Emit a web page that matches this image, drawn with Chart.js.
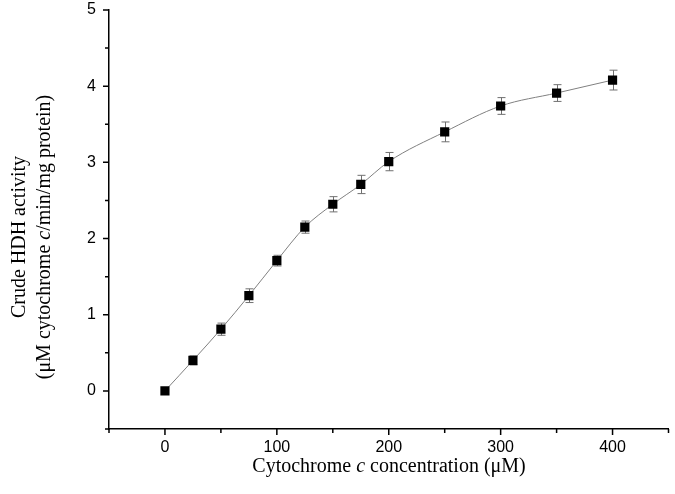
<!DOCTYPE html>
<html><head><meta charset="utf-8">
<script src="https://cdn.jsdelivr.net/npm/chart.js@4/dist/chart.umd.min.js"></script>
<style>html,body{margin:0;padding:0;background:#fff}#wrap{width:675px;height:494px}</style>
</head><body><div id="wrap"><canvas id="c" width="675" height="494"></canvas></div>
<script>
const concentrations = [0, 25, 50, 75, 100, 125, 150, 175, 200, 250, 300, 350, 400];
const activity = [0, 0.40, 0.81, 1.25, 1.71, 2.15, 2.45, 2.71, 3.01, 3.40, 3.74, 3.91, 4.08];
const errors = [0, 0.06, 0.08, 0.09, 0.07, 0.08, 0.10, 0.12, 0.12, 0.13, 0.11, 0.11, 0.13];
const xTickLabels = [0, 100, 200, 300, 400];
const yTickLabels = [0, 1, 2, 3, 4, 5];

const points = concentrations.map((x, i) => ({x: x, y: activity[i]}));

const errorBars = {
  id: 'errorBars',
  beforeDatasetsDraw(chart) {
    const ctx = chart.ctx, xs = chart.scales.x, ys = chart.scales.y;
    ctx.save();
    ctx.strokeStyle = '#707070';
    ctx.lineWidth = 1;
    concentrations.forEach((x, i) => {
      if (!errors[i]) return;
      const px = Math.round(xs.getPixelForValue(x)) + 0.5;
      const top = ys.getPixelForValue(activity[i] + errors[i]);
      const bot = ys.getPixelForValue(activity[i] - errors[i]);
      ctx.beginPath();
      ctx.moveTo(px, top); ctx.lineTo(px, bot);
      ctx.moveTo(px - 4, top); ctx.lineTo(px + 4, top);
      ctx.moveTo(px - 4, bot); ctx.lineTo(px + 4, bot);
      ctx.stroke();
    });
    ctx.restore();
  }
};

const axisDecor = {
  id: 'axisDecor',
  afterDraw(chart) {
    const ctx = chart.ctx, xs = chart.scales.x, ys = chart.scales.y;
    const ca = chart.chartArea;
    ctx.save();
    ctx.strokeStyle = '#000';
    ctx.lineWidth = 1.5;
    ctx.beginPath();
    for (let v = xs.min; v <= xs.max + 1e-9; v += 50) {
      const px = xs.getPixelForValue(v);
      const len = (v % 100 === 0) ? 6 : 4;
      ctx.moveTo(px, ca.bottom); ctx.lineTo(px, ca.bottom + len);
    }
    for (let v = ys.min; v <= ys.max + 1e-9; v += 0.5) {
      const py = ys.getPixelForValue(v);
      const len = (Math.abs(v - Math.round(v)) < 1e-9) ? 6 : 4;
      ctx.moveTo(ca.left, py); ctx.lineTo(ca.left - len, py);
    }
    ctx.stroke();

    ctx.fillStyle = '#000';
    ctx.textBaseline = 'middle';
    const serif = '"Liberation Serif", "Times New Roman", serif';
    function mixed(parts, cx, cy) {
      let total = 0;
      parts.forEach(p => { ctx.font = (p[1] ? 'italic ' : '') + '20px ' + serif; total += ctx.measureText(p[0]).width; });
      let x = cx - total / 2;
      ctx.textAlign = 'left';
      parts.forEach(p => { ctx.font = (p[1] ? 'italic ' : '') + '20px ' + serif; ctx.fillText(p[0], x, cy); x += ctx.measureText(p[0]).width; });
    }
    mixed([['Cytochrome ', false], ['c', true], [' concentration (\u03BCM)', false]], 389, 467);
    const midY = 237;
    ctx.save();
    ctx.translate(20, midY); ctx.rotate(-Math.PI / 2);
    mixed([['Crude HDH activity', false]], 0, 0);
    ctx.restore();
    ctx.save();
    ctx.translate(45, midY); ctx.rotate(-Math.PI / 2);
    mixed([['(\u03BCM cytochrome ', false], ['c', true], ['/min/mg protein)', false]], 0, 0);
    ctx.restore();
    ctx.restore();
  }
};

new Chart(document.getElementById('c'), {
  type: 'scatter',
  data: {
    datasets: [{
      data: points,
      showLine: true,
      cubicInterpolationMode: 'monotone',
      borderColor: '#808080',
      borderWidth: 1,
      backgroundColor: '#000',
      pointStyle: 'rect',
      pointRadius: 6.5,
      pointBorderColor: '#000',
      pointBorderWidth: 0,
      pointHoverRadius: 6.5
    }]
  },
  options: {
    responsive: false,
    animation: false,
    devicePixelRatio: 1,
    layout: {padding: {top: 10, right: -1, left: 0, bottom: 0}},
    plugins: {legend: {display: false}, tooltip: {enabled: false}},
    scales: {
      x: {
        type: 'linear', min: -50, max: 450,
        afterFit(s) { s.height = 65; s.paddingLeft = 0; s.paddingRight = 0; },
        afterBuildTicks(s) { s.ticks = xTickLabels.map(v => ({value: v})); },
        grid: {display: false},
        border: {display: true, color: '#000', width: 1.5},
        ticks: {color: '#000', padding: 1, font: {family: '"Liberation Sans", Arial, sans-serif', size: 16}, maxRotation: 0}
      },
      y: {
        type: 'linear', min: -0.5, max: 5,
        afterFit(s) { s.width = 109; s.paddingTop = 0; s.paddingBottom = 0; },
        afterBuildTicks(s) { s.ticks = yTickLabels.map(v => ({value: v})); },
        grid: {display: false},
        border: {display: true, color: '#000', width: 1.5},
        ticks: {color: '#000', padding: 5, font: {family: '"Liberation Sans", Arial, sans-serif', size: 16}}
      }
    }
  },
  plugins: [errorBars, axisDecor]
});
</script></body></html>
